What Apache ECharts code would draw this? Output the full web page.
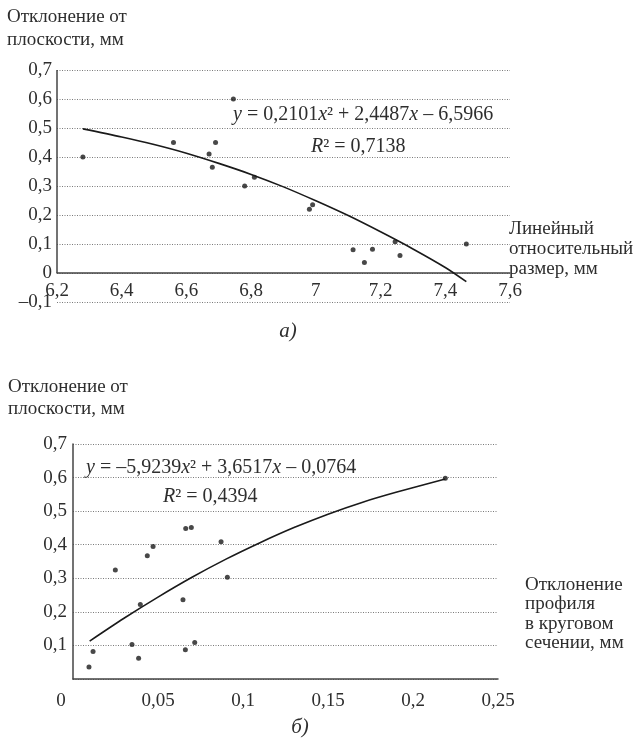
<!DOCTYPE html>
<html><head><meta charset="utf-8">
<script src="https://cdn.jsdelivr.net/npm/echarts@6/dist/echarts.min.js"></script>
<style>html,body{margin:0;padding:0;background:#fff}#c{width:638px;height:744px}</style>
</head><body><div id="c"></div>
<script>
// ---- Chart a) ----
const topPointsX = [6.28, 6.56, 6.745, 6.67, 6.68, 6.69, 6.78, 6.81, 6.98, 6.99, 7.115, 7.15, 7.175, 7.245, 7.26, 7.465];
const topPointsY = [0.40, 0.45, 0.60, 0.41, 0.365, 0.45, 0.30, 0.33, 0.22, 0.235, 0.08, 0.036, 0.082, 0.108, 0.06, 0.10];
const topTrendX = [6.28, 6.4, 6.5, 6.6, 6.7, 6.8, 6.9, 7.0, 7.1, 7.2, 7.3, 7.4, 7.465];
const topTrendY = [0.497, 0.469, 0.443, 0.413, 0.378, 0.340, 0.297, 0.249, 0.198, 0.142, 0.083, 0.019, -0.03];
const topXMin = 6.2, topXMax = 7.6, topXStep = 0.2;
const topYMin = -0.1, topYMax = 0.7, topYStep = 0.1;

// ---- Chart б) ----
const botPointsX = [0.0094, 0.0118, 0.0249, 0.0347, 0.0386, 0.0396, 0.0437, 0.0471, 0.0647, 0.0661, 0.0663, 0.0696, 0.0716, 0.0871, 0.0908, 0.219];
const botPointsY = [0.036, 0.082, 0.325, 0.103, 0.062, 0.222, 0.367, 0.395, 0.236, 0.087, 0.448, 0.451, 0.109, 0.409, 0.303, 0.598];
const botTrendX = [0.0098, 0.03, 0.05, 0.07, 0.09, 0.11, 0.13, 0.15, 0.17, 0.19, 0.219];
const botTrendY = [0.113, 0.181, 0.244, 0.303, 0.357, 0.406, 0.451, 0.491, 0.526, 0.556, 0.596];
const botXMin = 0, botXMax = 0.25, botXStep = 0.05;
const botYMin = 0, botYMax = 0.7, botYStep = 0.1;

// ---- Texts ----
const yTitle = 'Отклонение от\nплоскости, мм';
const topXTitle = 'Линейный\nотносительный\nразмер, мм';
const botXTitle = 'Отклонение\nпрофиля\nв круговом\nсечении, мм';
const topEq = '{i|y} = 0,2101{i|x}² + 2,4487{i|x} – 6,5966';
const topR2 = '{i|R}² = 0,7138';
const botEq = '{i|y} = –5,9239{i|x}² + 3,6517{i|x} – 0,0764';
const botR2 = '{i|R}² = 0,4394';
const topCaption = 'а)';
const botCaption = 'б)';

const FONT = '"Liberation Serif", "DejaVu Serif", serif';
const TXT = '#2e2e2e';
const INK = '#1a1a1a';
const AX = '#444';

function fmt(v) {
  let s = String(+Number(v).toFixed(3)).replace('.', ',');
  if (s.charAt(0) === '-') s = '–' + s.slice(1);
  return s;
}
const zip = (a, b) => a.map((v, i) => [v, b[i]]);

const labelStyle = { fontFamily: FONT, fontSize: 19, color: TXT };
const gridLine = { show: true, lineStyle: { type: [1, 1.5], color: '#7a7a7a', width: 1 } };

function txt(x, y, text, opts) {
  return {
    type: 'text', x: x, y: y, silent: true,
    style: Object.assign({
      text: text, fill: TXT, fontFamily: FONT, fontSize: 19,
      align: 'left', verticalAlign: 'middle',
      rich: { i: { fontStyle: 'italic', fontFamily: FONT, fontSize: 20, fill: TXT } }
    }, opts || {})
  };
}

const chart = echarts.init(document.getElementById('c'), null, { renderer: 'canvas' });
chart.setOption({
  animation: false,
  backgroundColor: '#fff',
  grid: [
    { left: 57, top: 70, width: 453, height: 232 },
    { left: 73, top: 444, width: 425, height: 235 }
  ],
  xAxis: [
    { gridIndex: 0, type: 'value', min: topXMin, max: topXMax, interval: topXStep,
      position: 'bottom', offset: -29,
      axisLine: { show: true, onZero: false, lineStyle: { color: AX, width: 1.5 } },
      axisTick: { show: false }, splitLine: { show: false },
      axisLabel: Object.assign({ margin: 9, formatter: fmt }, labelStyle) },
    { gridIndex: 1, type: 'value', min: botXMin, max: botXMax, interval: botXStep,
      axisLine: { show: true, onZero: false, lineStyle: { color: AX, width: 1.5 } },
      axisTick: { show: false }, splitLine: { show: false },
      axisLabel: Object.assign({ margin: 13,
        formatter: v => (v === 0 ? '{z|0}' : fmt(v)),
        rich: { z: { padding: [0, 24, 0, 0], fontFamily: FONT, fontSize: 19, color: TXT } } }, labelStyle) }
  ],
  yAxis: [
    { gridIndex: 0, type: 'value', min: topYMin, max: topYMax, interval: topYStep,
      axisLine: { show: false }, axisTick: { show: false }, splitLine: gridLine,
      axisLabel: Object.assign({ margin: 5, formatter: fmt }, labelStyle) },
    { gridIndex: 1, type: 'value', min: botYMin, max: botYMax, interval: botYStep,
      axisLine: { show: true, lineStyle: { color: AX, width: 1.5 } }, axisTick: { show: false }, splitLine: gridLine,
      axisLabel: Object.assign({ margin: 6, formatter: v => (v === 0 ? '' : fmt(v)) }, labelStyle) }
  ],
  series: [
    { type: 'line', xAxisIndex: 0, yAxisIndex: 0, data: zip(topTrendX, topTrendY),
      smooth: 0.3, showSymbol: false, silent: true,
      lineStyle: { color: INK, width: 1.6 }, z: 3,
      markLine: { silent: true, symbol: ['none', 'none'], label: { show: false },
        lineStyle: { color: AX, width: 1.5, type: 'solid' },
        emphasis: { disabled: true },
        data: [[{ coord: [topXMin, 0] }, { coord: [topXMin, topYMax] }]] } },
    { type: 'scatter', xAxisIndex: 0, yAxisIndex: 0, data: zip(topPointsX, topPointsY),
      symbolSize: 5, itemStyle: { color: INK }, z: 4 },
    { type: 'line', xAxisIndex: 1, yAxisIndex: 1, data: zip(botTrendX, botTrendY),
      smooth: 0.3, showSymbol: false, silent: true,
      lineStyle: { color: INK, width: 1.6 }, z: 3 },
    { type: 'scatter', xAxisIndex: 1, yAxisIndex: 1, data: zip(botPointsX, botPointsY),
      symbolSize: 5, itemStyle: { color: INK }, z: 4 }
  ],
  graphic: [
    txt(7, 6, yTitle, { verticalAlign: 'top', lineHeight: 23 }),
    txt(233, 115, topEq, { fontSize: 20 }),
    txt(311, 147, topR2, { fontSize: 20 }),
    txt(509, 219, topXTitle, { verticalAlign: 'top', lineHeight: 20 }),
    txt(288, 331, topCaption, { align: 'center', fontStyle: 'italic', fontSize: 21 }),
    txt(8, 376, yTitle, { verticalAlign: 'top', lineHeight: 22 }),
    txt(86, 468, botEq, { fontSize: 20 }),
    txt(163, 497, botR2, { fontSize: 20 }),
    txt(525, 575, botXTitle, { verticalAlign: 'top', lineHeight: 19.5 }),
    txt(300, 727, botCaption, { align: 'center', fontStyle: 'italic', fontSize: 21 })
  ]
});
</script>
</body></html>
